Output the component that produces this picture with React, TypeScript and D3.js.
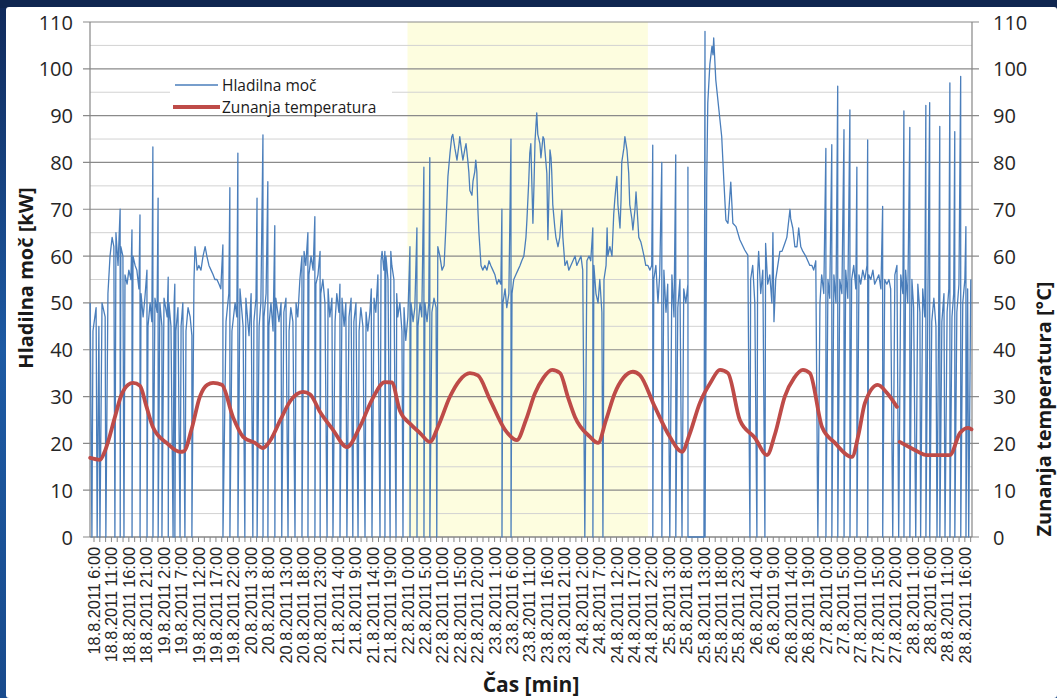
import React from 'react';
import * as d3 from 'd3';

// x values are hours since 18.8.2011 0:00
const xLabels = [
  '18.8.2011 6:00', '18.8.2011 11:00', '18.8.2011 16:00', '18.8.2011 21:00',
  '19.8.2011 2:00', '19.8.2011 7:00', '19.8.2011 12:00', '19.8.2011 17:00', '19.8.2011 22:00',
  '20.8.2011 3:00', '20.8.2011 8:00', '20.8.2011 13:00', '20.8.2011 18:00', '20.8.2011 23:00',
  '21.8.2011 4:00', '21.8.2011 9:00', '21.8.2011 14:00', '21.8.2011 19:00',
  '22.8.2011 0:00', '22.8.2011 5:00', '22.8.2011 10:00', '22.8.2011 15:00', '22.8.2011 20:00',
  '23.8.2011 1:00', '23.8.2011 6:00', '23.8.2011 11:00', '23.8.2011 16:00', '23.8.2011 21:00',
  '24.8.2011 2:00', '24.8.2011 7:00', '24.8.2011 12:00', '24.8.2011 17:00', '24.8.2011 22:00',
  '25.8.2011 3:00', '25.8.2011 8:00', '25.8.2011 13:00', '25.8.2011 18:00', '25.8.2011 23:00',
  '26.8.2011 4:00', '26.8.2011 9:00', '26.8.2011 14:00', '26.8.2011 19:00',
  '27.8.2011 0:00', '27.8.2011 5:00', '27.8.2011 10:00', '27.8.2011 15:00', '27.8.2011 20:00',
  '28.8.2011 1:00', '28.8.2011 6:00', '28.8.2011 11:00', '28.8.2011 16:00',
];
const firstLabelHour = 6;
const labelStepHours = 5;
const yTicks = [0, 10, 20, 30, 40, 50, 60, 70, 80, 90, 100, 110];
const highlightPeriod = [96, 165]; // 22.8 0:00 – 24.8 21:00

// outside temperature [°C]
const temperature: [number, number | null][] = [
  [4.9, 16.9], [7.7, 16.5], [9.2, 18.5], [12, 25.6], [13.7, 30], [15.8, 32.5], [17.2, 32.9], [19.2, 32.3],
  [21, 28], [22.9, 23.5], [27.0, 20.0], [30.7, 18.2], [31.8, 18.3], [34, 23], [36.4, 30], [38.5, 32.5],
  [40.2, 32.9], [42.7, 32.5], [45.9, 25.6], [48.8, 21.4], [52.2, 20.1], [54.5, 19.0], [56.5, 20.5], [59.5, 25],
  [62.3, 29], [66.0, 31], [68.0, 30.5], [70.9, 26.7], [74.6, 22.9], [78.6, 19.2], [82.3, 23.5], [85.8, 29.3],
  [89.5, 33.1], [91.5, 33.0], [93.8, 27], [97, 24], [99.6, 22.2], [102.4, 20.3], [105, 24], [108.2, 30],
  [111, 33.5], [113.9, 35], [116.2, 34.5], [119.7, 29.3], [124.0, 22.9], [127.4, 20.7], [130, 25], [132.6, 30.7],
  [135, 34], [137.5, 35.7], [139.8, 35], [142, 30], [144.1, 25.6], [148.4, 21.4], [150.7, 20.1], [153, 25],
  [155.5, 30.7], [158, 34], [160.7, 35.3], [162.7, 34.6], [167.0, 27.8], [171.3, 21.4], [174.8, 18.2], [177, 22],
  [179.9, 28.6], [183, 33], [185.7, 35.7], [188.0, 35], [191.4, 25], [195.7, 21.2], [199.2, 17.5], [201.5, 22],
  [204.3, 30], [207, 34], [209.5, 35.7], [211.5, 35], [215.0, 23.5], [218.7, 20.1], [223.6, 17.1], [225.5, 22],
  [227.3, 28.6], [231.0, 32.5], [233.6, 30.8], [236.5, 27.8], [236.9, null], [237.3, 20.3], [241.6, 18.6],
  [245.1, 17.5], [251.7, 17.5], [254.6, 22.2], [257.0, 23.3], [257.9, 23],
];

// cooling power [kW] – running level
const powerLevel: [number, number][] = [
  [4.9, 50], [5.7, 44], [6.6, 49], [7.4, 45], [8.3, 50], [9.2, 47], [10.0, 52], [10.6, 60], [11.2, 64], [11.7, 62],
  [12.3, 65], [12.9, 58], [13.7, 62], [14.3, 60], [14.9, 56], [15.5, 54], [16.0, 57], [16.6, 55], [17.2, 60], [17.8, 58],
  [18.3, 57], [18.9, 53], [19.5, 52], [20.1, 47], [20.6, 51], [21.5, 45], [22.1, 50], [22.6, 46], [23.5, 51], [24.1, 48],
  [24.9, 50], [25.5, 45], [26.1, 51], [27.0, 47], [27.5, 50], [28.1, 45], [29.0, 50], [29.5, 44], [30.1, 49], [31.0, 45],
  [31.5, 50], [32.4, 44], [33.0, 49], [33.6, 47], [34.1, 43],
  [34.7, 55], [35.0, 62], [35.3, 60], [35.6, 57], [36.1, 58], [36.7, 57], [37.3, 60], [37.9, 62], [38.4, 60], [39.0, 58],
  [39.6, 57], [40.2, 56], [40.7, 55], [41.3, 55], [41.9, 54], [42.4, 53],
  [43.9, 46], [44.7, 52], [45.6, 44], [46.5, 50], [47.0, 47], [47.9, 53], [48.8, 45], [49.6, 51], [50.5, 43],
  [51.1, 52], [51.9, 46], [52.5, 51], [53.4, 45], [53.9, 50], [54.8, 47], [55.4, 52], [56.2, 45], [56.8, 50], [57.4, 44],
  [58.2, 51], [59.1, 46], [59.7, 50], [60.5, 48], [61.1, 51], [62.0, 44], [62.5, 49], [63.1, 46], [64.0, 50], [64.5, 47],
  [65.1, 55], [65.7, 60], [66.3, 61], [66.8, 58], [67.7, 56], [68.3, 60], [68.9, 57], [69.7, 54], [70.3, 56], [71.1, 52],
  [71.7, 55],
  [72.3, 50], [73.2, 53], [73.7, 47], [74.3, 51], [75.2, 46], [75.7, 52], [76.3, 48], [77.2, 51], [77.8, 45], [78.3, 50],
  [79.2, 47], [79.8, 51], [80.6, 46], [81.2, 50], [82.1, 44], [82.6, 49], [83.2, 45], [84.1, 48], [84.6, 44],
  [85.2, 48], [85.6, 53], [86.4, 51], [86.9, 48], [87.5, 56], [88.4, 59], [88.7, 61], [89.2, 57], [89.8, 60], [90.4, 55],
  [91.2, 61], [91.5, 58], [92.1, 55],
  [92.9, 52], [93.2, 47], [93.8, 50], [94.4, 44], [95.0, 49], [95.5, 42], [96.1, 47], [97.0, 50], [97.6, 46], [98.1, 49],
  [99.0, 45], [99.6, 50], [100.1, 47], [101.0, 50], [101.6, 46], [102.1, 50], [103.0, 48], [103.6, 51], [104.2, 49],
  [104.7, 62], [105.3, 60], [105.9, 57], [106.5, 58],
  [107.0, 66], [107.6, 77], [108.2, 82], [108.7, 85.5], [109.0, 86], [109.6, 83], [110.2, 80.5], [110.8, 84], [111.0, 85.5],
  [111.6, 82], [111.9, 80.5], [112.5, 83], [112.8, 84], [113.3, 80.5], [113.6, 78], [113.9, 74], [114.5, 73], [114.8, 76],
  [115.3, 78], [115.6, 80.5], [115.9, 78], [116.2, 70], [116.5, 65],
  [117.1, 58], [117.6, 57], [118.2, 58], [118.8, 57], [119.4, 59], [119.9, 58], [120.5, 57], [121.1, 56], [121.7, 54],
  [122.2, 55], [122.8, 54], [123.4, 50], [124.0, 53], [124.5, 49], [125.1, 52], [126.0, 52], [126.5, 55], [127.1, 56],
  [127.7, 57], [128.3, 58], [128.8, 59], [129.4, 60],
  [130.0, 64], [130.3, 68], [130.8, 76], [131.1, 82], [131.4, 84], [132.0, 67], [132.3, 75], [132.6, 84.5], [133.1, 90.6],
  [133.4, 86], [134.0, 84], [134.3, 81], [134.9, 85.5], [135.2, 85], [135.4, 83], [136.0, 77.7], [136.3, 63.5],
  [136.9, 82.7], [137.2, 81], [137.4, 78], [137.7, 71], [138.3, 66], [138.6, 64], [139.2, 62], [139.7, 64], [140.3, 69.8],
  [140.6, 64], [141.2, 58], [141.8, 59], [142.3, 57],
  [142.9, 58], [143.5, 59], [144.1, 60], [144.6, 58], [145.2, 59], [145.8, 60], [146.3, 57], [147.5, 59], [148.1, 60],
  [148.6, 59], [149.5, 58], [150.1, 52], [150.7, 50], [151.2, 55], [151.8, 48], [152.4, 55],
  [153.0, 58], [153.3, 66], [153.5, 60], [154.1, 62], [154.7, 60], [155.2, 69], [155.5, 72], [156.1, 77], [156.4, 71],
  [157.0, 66], [157.3, 72], [157.5, 80], [158.1, 83], [158.4, 85.5], [159.0, 82.7], [159.5, 77.7], [159.8, 71], [160.4, 68],
  [160.7, 65.6], [161.3, 70], [161.6, 73.7], [162.1, 67.7], [162.4, 64], [163.0, 63], [163.3, 62], [163.9, 60], [164.4, 58],
  [165.0, 58], [165.6, 57], [166.1, 58],
  [166.7, 55], [167.3, 58], [167.9, 50], [168.4, 56], [169.6, 57], [170.2, 48], [170.7, 54], [171.9, 56], [172.5, 47],
  [173.6, 49], [174.2, 55], [175.3, 53], [175.9, 50], [176.5, 54],
  [177.1, 0], [181.1, 0],
  [181.9, 76.3], [182.2, 92.7], [182.8, 101], [183.4, 104.8], [183.7, 103], [183.9, 106.6], [184.5, 97.6], [185.4, 91.2],
  [186.2, 85.5], [186.8, 76.3], [187.4, 67.7], [188.0, 67], [188.8, 75.8], [189.4, 67], [190.3, 66.3], [191.4, 63.5],
  [192.8, 61.3], [193.7, 60.2],
  [194.5, 55], [195.1, 58], [195.7, 50], [196.5, 56], [196.8, 61], [197.4, 52], [198.0, 57], [198.8, 62.7], [199.4, 54],
  [200.0, 56], [200.6, 50], [200.9, 65], [201.2, 46], [201.7, 55], [202.3, 58], [202.9, 61], [203.5, 61], [204.3, 62.7],
  [204.9, 64], [205.2, 66], [205.8, 70], [206.0, 68], [206.6, 66], [207.2, 62], [207.8, 62], [208.3, 66], [208.9, 62],
  [209.5, 61], [210.3, 60], [210.9, 59], [211.5, 58], [212.1, 58], [212.6, 57], [213.2, 59],
  [214.4, 50], [214.9, 56], [215.5, 52], [216.7, 55], [217.2, 51], [218.4, 56], [219.0, 50], [220.1, 55], [220.7, 52],
  [221.8, 57], [222.4, 51], [223.5, 55], [224.1, 58], [224.7, 53], [225.6, 56], [226.1, 54], [226.7, 57], [227.3, 55],
  [227.9, 58], [228.4, 56], [229.0, 55], [229.6, 57], [230.1, 54], [230.7, 55], [231.3, 56], [231.9, 53], [233.0, 55],
  [233.6, 54], [234.2, 55], [234.7, 53], [235.9, 56], [236.5, 58], [237.6, 56],
  [238.2, 52], [239.0, 57], [239.6, 50], [240.8, 55], [241.3, 49], [242.5, 54], [243.1, 48], [243.9, 53], [244.5, 47],
  [245.4, 52], [246.5, 46], [247.1, 51], [247.7, 45], [248.5, 50], [249.4, 46], [250.0, 52], [250.9, 48], [251.4, 53],
  [252.3, 47], [252.8, 52], [253.7, 48], [254.3, 54], [255.4, 50], [256.0, 55], [256.8, 53], [257.7, 55],
];

// cooling power – switching events: [hour, peak kW before the drop to 0, or null]
const powerSwitches: [number, number | null][] = [
  [5.4, null], [6.9, null], [7.7, null], [9.4, null], [12.0, null], [13.5, 70], [14.6, null], [16.9, 65.6], [19.2, 68.8],
  [21.2, 57], [22.9, 83.3], [24.4, 72.4], [25.5, null], [27.3, 55.5], [28.7, null], [29.2, 54], [30.7, null], [32.1, null],
  [34.1, null],
  [43.0, 62.4], [45.0, 74.6], [47.3, 82], [49.3, null], [51.6, null], [52.8, 72.4], [54.5, 85.9], [55.9, 75.9], [57.9, 66.5],
  [59.9, null], [61.7, null], [63.7, null], [65.7, null], [67.4, 65], [69.4, 68.4], [70.9, 61], [72.9, null], [74.6, null],
  [76.6, 54], [78.6, null], [80.3, null], [81.8, null], [83.8, null], [85.8, null], [88.1, null], [89.5, 61], [91.0, null],
  [92.7, null], [94.7, null], [96.7, 62], [98.7, 66], [100.7, 79], [102.4, 81], [104.4, null],
  [123.1, 70], [125.7, 85], [146.9, null], [149.2, 66], [152.1, null],
  [166.4, 83.7], [169.0, 80], [171.3, null], [173.0, 81.6], [174.8, null], [176.5, 79], [181.4, 108],
  [194.3, null], [196.3, null], [198.6, null],
  [213.8, null], [216.1, 83], [217.8, 83.8], [219.5, 96.3], [221.3, 87], [223.0, 91.2], [225.0, 79], [228.1, 84.8],
  [232.4, 70.6], [235.3, null], [237.0, null], [238.5, 91], [240.2, 87.5], [241.9, null], [243.3, null], [244.8, 92.2],
  [245.9, 92.8], [248.0, null], [248.8, 87.7], [250.3, null], [251.7, 97], [253.1, 86.6], [254.8, 98.4], [256.3, 66.3],
  [257.1, null],
];

const seriesNames = ['Hladilna moč', 'Zunanja temperatura'];
const xTitle = 'Čas [min]';
const yLeftTitle = 'Hladilna moč [kW]';
const yRightTitle = 'Zunanja temperatura [°C]';

type P = { h: number; v: number };

export default function App() {
  const W = 1057;
  const H = 698;
  const L = 90, R = 972, T = 22, B = 537;
  const x = d3.scaleLinear().domain([4.85, 258.05]).range([L, R]);
  const y = d3.scaleLinear().domain([0, 110]).range([B, T]);

  const pts: P[] = [];
  powerLevel.forEach(([h, v]) => pts.push({ h, v }));
  powerSwitches.forEach(([h, top]) => {
    if (top !== null) {
      pts.push({ h, v: top });
      pts.push({ h: h + 0.02, v: 0 });
    } else {
      pts.push({ h, v: 0 });
    }
  });
  pts.sort((a, b) => a.h - b.h);

  const powerPath = d3.line<P>().x(d => x(d.h)).y(d => y(d.v))(pts) || '';
  const tempPath =
    d3
      .line<[number, number | null]>()
      .defined(d => d[1] !== null)
      .x(d => x(d[0]))
      .y(d => y(d[1] as number))
      .curve(d3.curveMonotoneX)(temperature) || '';

  const gridVals = d3.range(0, 111, 5);
  const labelHours = xLabels.map((_, i) => firstLabelHour + i * labelStepHours);
  const minorTicks = d3.range(firstLabelHour - 5 / 3, 258, 5 / 3).filter(h => h >= 4.85 && h <= 258.05);

  const fontNum = "'Open Sans', 'DejaVu Sans', sans-serif";
  const fontLab = "'Liberation Sans', Arial, sans-serif";

  return (
    <svg width={W} height={H} style={{ position: 'absolute', left: 0, top: 0, display: 'block' }}>
      <defs>
        <linearGradient id="frameL" x1="0" y1="0" x2="0" y2="1">
          <stop offset="0" stopColor="#10295a" />
          <stop offset="0.5" stopColor="#1d5aa3" />
          <stop offset="1" stopColor="#184a8c" />
        </linearGradient>
      </defs>
      <rect x={0} y={0} width={W} height={H} fill="url(#frameL)" />
      <rect x={0} y={0} width={W} height={8} fill="#0f2650" />
      <rect x={6} y={7} width={W - 6} height={H - 7} fill="#ffffff" rx={3} />

      {/* highlighted period */}
      <rect
        x={x(highlightPeriod[0])}
        y={T}
        width={x(highlightPeriod[1]) - x(highlightPeriod[0])}
        height={B - T}
        fill="#fdfddf"
      />

      {/* gridlines */}
      {gridVals.map(v => {
        const major = v % 10 === 0;
        return (
          <line
            key={'g' + v}
            x1={major ? L - 7 : L}
            x2={major ? R + 7 : R}
            y1={y(v)}
            y2={y(v)}
            stroke={major ? '#8a8a8a' : '#d2d2d2'}
            strokeWidth={major ? 1.2 : 1}
          />
        );
      })}

      {/* axes */}
      <line x1={L} x2={L} y1={T} y2={B} stroke="#868686" strokeWidth={1.2} />
      <line x1={R} x2={R} y1={T} y2={B} stroke="#868686" strokeWidth={1.2} />
      <line x1={L} x2={R} y1={B} y2={B} stroke="#868686" strokeWidth={1.2} />
      {minorTicks.map((h, i) => (
        <line key={'t' + i} x1={x(h)} x2={x(h)} y1={B} y2={B + 5} stroke="#868686" strokeWidth={1} />
      ))}

      {/* series */}
      <path d={powerPath} fill="none" stroke="#4a7ebb" strokeWidth={1.3} strokeLinejoin="round" />
      <path d={tempPath} fill="none" stroke="#be4b48" strokeWidth={3.8} strokeLinejoin="round" strokeLinecap="round" />

      {/* y tick labels */}
      {yTicks.map(v => (
        <text key={'yl' + v} x={73} y={y(v)} textAnchor="end" dominantBaseline="central" fontFamily={fontNum} fontSize={20} fill="#262626">
          {v}
        </text>
      ))}
      {yTicks.map(v => (
        <text key={'yr' + v} x={993} y={y(v)} textAnchor="start" dominantBaseline="central" fontFamily={fontNum} fontSize={20} fill="#262626">
          {v}
        </text>
      ))}

      {/* x tick labels */}
      {xLabels.map((s, i) => (
        <text
          key={'xl' + i}
          transform={`translate(${x(labelHours[i])},547) rotate(-90)`}
          textAnchor="end"
          dominantBaseline="central"
          fontFamily={fontLab}
          fontSize={16.3}
          fill="#262626"
        >
          {s}
        </text>
      ))}

      {/* axis titles */}
      <text x={531} y={692} textAnchor="middle" fontFamily={fontNum} fontWeight="bold" fontSize={21} fill="#1a1a1a">
        {xTitle}
      </text>
      <text transform="translate(25,278) rotate(-90)" textAnchor="middle" dominantBaseline="central" fontFamily={fontNum} fontWeight="bold" fontSize={20} fill="#1a1a1a">
        {yLeftTitle}
      </text>
      <text transform="translate(1043,409) rotate(-90)" textAnchor="middle" dominantBaseline="central" fontFamily={fontNum} fontWeight="bold" fontSize={20} fill="#1a1a1a">
        {yRightTitle}
      </text>

      {/* legend */}
      <rect x={170} y={76} width={222} height={37} fill="#ffffff" />
      <line x1={175} x2={218} y1={85} y2={85} stroke="#4a7ebb" strokeWidth={1.3} />
      <text x={222} y={85} dominantBaseline="central" fontFamily={fontNum} fontSize={15.5} fill="#1a1a1a">
        {seriesNames[0]}
      </text>
      <line x1={173} x2={220} y1={107} y2={107} stroke="#be4b48" strokeWidth={4} />
      <text x={222} y={107} dominantBaseline="central" fontFamily={fontNum} fontSize={15.5} fill="#1a1a1a">
        {seriesNames[1]}
      </text>
    </svg>
  );
}
